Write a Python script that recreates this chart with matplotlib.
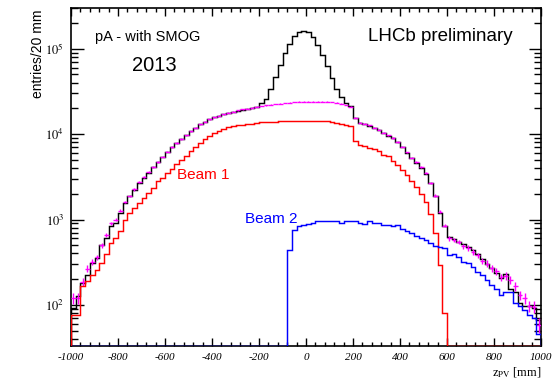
import numpy as np
import matplotlib
matplotlib.use("Agg")
import matplotlib.pyplot as plt
from matplotlib.ticker import LogLocator, NullFormatter, MultipleLocator

plt.rcParams['mathtext.fontset'] = 'stix'

# ---- data (entries per 20 mm bin, z from -1000 to 1000 mm) ----
bin_lo, bin_hi, bin_w = -1000, 1000, 20

total = [91, 127, 180, 225, 308, 353, 505, 605, 830, 920,
         1190, 1550, 1900, 2230, 2700, 3100, 3550, 4100, 4700, 5400,
         6200, 7000, 7800, 8700, 9700, 10800, 11900, 13000, 14000, 14900,
         15700, 16400, 17100, 17700, 18300, 18900, 19400, 19900, 20400, 20900,
         23000, 26000, 34000, 47000, 64000, 88000, 115000, 140000, 155000, 162000,
         158000, 138000, 110000, 84000, 62000, 45000, 34000, 27000, 23000, 21200,
         15500, 13500, 13100, 12600, 11800, 11200, 10300, 9600, 8900, 8000,
         7000, 6000, 5200, 4600, 4000, 3400, 2680, 1860, 1190, 830,
         630, 590, 550, 520, 475, 440, 395, 343, 300, 270,
         235, 205, 230, 153, 143, 105, 97, 96, 91, 67]

beamgas = [120, 120, 185, 265, 320, 360, 500, 660, 900, 1000,
           1270, 1600, 1880, 2250, 2750, 3150, 3600, 4150, 4750, 5450,
           6250, 7050, 7850, 8750, 9750, 10850, 11950, 13050, 14050, 14950,
           15750, 16450, 17150, 17750, 18350, 18950, 19450, 19950, 20450, 20950,
           21400, 21800, 22200, 22500, 22800, 23100, 23400, 23700, 23900, 24000,
           24000, 24000, 24000, 23900, 23900, 23700, 23300, 22700, 22000, 21000,
           15500, 13600, 13200, 12700, 11900, 11300, 10400, 9700, 9000, 8100,
           7100, 6100, 5300, 4700, 4100, 3500, 2700, 1900, 1230, 850,
           600, 575, 545, 490, 465, 415, 380, 325, 305, 270,
           250, 210, 220, 195, 165, 130, 120, 97, 95, 58]

beam1 = [76, 76, 167, 188, 225, 257, 313, 395, 530, 605,
         725, 1000, 1190, 1360, 1550, 1780, 2040, 2340, 2790, 3100,
         3500, 3950, 4450, 5000, 5600, 6300, 7000, 7800, 8700, 9500,
         10200, 10900, 11500, 12000, 12400, 12700, 12900, 13100, 13300, 13500,
         13700, 13800, 13900, 14000, 14100, 14100, 14100, 14100, 14100, 14100,
         14100, 14100, 14100, 14100, 14100, 13900, 13600, 13200, 12800, 12400,
         8200, 7500, 7200, 6900, 6700, 6300, 5700, 5500, 4800, 4400,
         3800, 3300, 2800, 2400, 2000, 1600, 1150, 700, 295, 80,
         0, 0, 0, 0, 0, 0, 0, 0, 0, 0,
         0, 0, 0, 0, 0, 0, 0, 0, 0, 0]

beam2 = [0] * 46 + [440, 757, 830, 865, 890, 920, 970, 950, 970, 970,
                    950, 920, 950, 970, 950, 900, 890, 970, 920, 900,
                    865, 865, 840, 865, 780, 725, 690, 645, 605, 578,
                    530, 490, 480, 465, 385, 395, 368, 322, 313, 281,
                    246, 225, 196, 172, 153, 131, 143, 140, 105, 97,
                    87, 76, 70, 45]

x_ticks = [-1000, -800, -600, -400, -200, 0, 200, 400, 600, 800, 1000]
y_ticks = [1e2, 1e3, 1e4, 1e5]
y_ticklabels = [r'$\mathit{10^{2}}$', r'$\mathit{10^{3}}$', r'$\mathit{10^{4}}$', r'$\mathit{10^{5}}$']

ymin, ymax = 33, 3.0e5

# ---- figure ----
W, H = 558, 381
fig = plt.figure(figsize=(W / 100, H / 100), dpi=100)
ax = fig.add_axes([71 / W, 1 - 346 / H, (541 - 71) / W, (346 - 8) / H])

edges = np.arange(bin_lo, bin_hi + bin_w, bin_w)
centers = 0.5 * (edges[:-1] + edges[1:])

def clip(v):
    v = np.asarray(v, dtype=float)
    return np.where(v > 0, v, ymin)

lw = 1.05
ax.stairs(clip(total), edges, baseline=ymin, color='black', lw=lw, zorder=2)
bg = np.asarray(beamgas, dtype=float)
ax.errorbar(centers, bg, xerr=bin_w / 2, yerr=1.5 * np.sqrt(bg), fmt='none',
            ecolor='#ff00ff', elinewidth=1.0, zorder=3)
ax.stairs(clip(beam1), edges, baseline=ymin, color='#ff0000', lw=lw, zorder=4)
ax.stairs(clip(beam2), edges, baseline=ymin, color='#0000ff', lw=lw, zorder=5)

ax.set_xlim(bin_lo, bin_hi)
ax.set_yscale('log')
ax.set_ylim(ymin, ymax)

ax.set_xticks(x_ticks)
ax.set_xticklabels([str(t) for t in x_ticks])
ax.xaxis.set_minor_locator(MultipleLocator(40))
ax.set_yticks(y_ticks)
ax.set_yticklabels(y_ticklabels)
ax.yaxis.set_minor_locator(LogLocator(base=10, subs=np.arange(2, 10)))
ax.yaxis.set_minor_formatter(NullFormatter())

ax.tick_params(axis='both', which='both', direction='in', top=True, right=True, width=1.0)
ax.tick_params(axis='x', which='major', length=6, pad=5)
ax.tick_params(axis='x', which='minor', length=3.2)
ax.tick_params(axis='y', which='major', length=9, pad=5)
ax.tick_params(axis='y', which='minor', length=5)
for lab in ax.get_xticklabels():
    lab.set_fontfamily('Liberation Serif')
    lab.set_fontstyle('italic')
    lab.set_fontsize(8)
for lab in ax.get_yticklabels():
    lab.set_fontsize(9)
for s in ax.spines.values():
    s.set_linewidth(1.2)

sans = 'Liberation Sans'
def ftext(px, py, s, **kw):
    fig.text(px / W, 1 - py / H, s, **kw)

ftext(95, 41.5, 'pA - with SMOG', fontsize=10.5, family=sans, va='baseline', ha='left')
ftext(132, 71, '2013', fontsize=14.5, family=sans, va='baseline', ha='left')
ftext(368, 40.7, 'LHCb preliminary', fontsize=13.5, family=sans, va='baseline', ha='left')
ftext(177, 179, 'Beam 1', fontsize=11, family=sans, color='#ff0000', va='baseline', ha='left')
ftext(245, 223, 'Beam 2', fontsize=11, family=sans, color='#0000ff', va='baseline', ha='left')
ftext(38, 10, 'entries/20 mm', fontsize=10, family=sans, rotation=90,
      ha='right', va='center', rotation_mode='anchor')
ftext(542, 376, r'z$_{\mathrm{PV}}$ [mm]', fontsize=9, family='Liberation Serif',
      ha='right', va='baseline')

fig.savefig('out.png', dpi=100)
